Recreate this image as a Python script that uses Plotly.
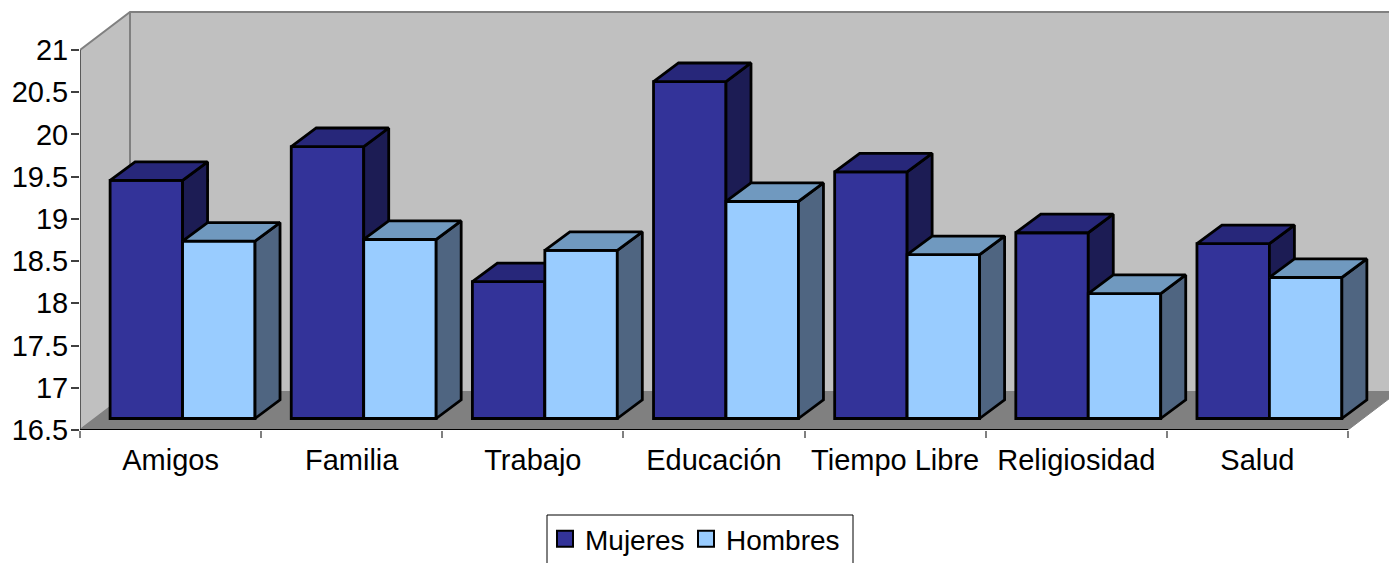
import plotly.graph_objects as go

categories = ["Amigos", "Familia", "Trabajo", "Educación", "Tiempo Libre", "Religiosidad", "Salud"]
mujeres = [19.32, 19.72, 18.12, 20.49, 19.42, 18.70, 18.57]
hombres = [18.60, 18.62, 18.49, 19.07, 18.44, 17.98, 18.17]
y_ticks = [16.5, 17, 17.5, 18, 18.5, 19, 19.5, 20, 20.5, 21]
y_labels = ["16.5", "17", "17.5", "18", "18.5", "19", "19.5", "20", "20.5", "21"]

W, H = 1389, 563
ML, MB = 80, 133
PX_X, PX_Y = 181.14, 84.44        # pixels per category / per value unit
XMAX = (W - ML) / PX_X
YMIN, YMAX = 16.5, 16.5 + (H - MB) / PX_Y
N = len(categories)
BAR_W = 0.4
# oblique projection, expressed in axis units
WALL_DX, WALL_DY = 50 / PX_X, 38 / PX_Y
PLANE_DX, PLANE_DY = 12 / PX_X, 11.5 / PX_Y
BAR_DX, BAR_DY = 25 / PX_X, 18.6 / PX_Y
FONT = "Liberation Sans, Arial, sans-serif"
OUT = 2.8

fig = go.Figure()

# walls and floor
wx, wy = WALL_DX, WALL_DY
fig.add_trace(go.Scatter(
    x=[0, 0, wx, N + wx, N + wx, wx, 0], y=[YMIN, 21, 21 + wy, 21 + wy, YMIN + wy, YMIN + wy, YMIN],
    mode="lines", fill="toself", fillcolor="#C0C0C0", line=dict(color="#808080", width=2),
    showlegend=False, hoverinfo="skip"))
fig.add_trace(go.Scatter(
    x=[wx, wx], y=[YMIN + wy, 21 + wy], mode="lines", line=dict(color="#808080", width=2),
    showlegend=False, hoverinfo="skip"))
fig.add_trace(go.Scatter(
    x=[0, wx, N + wx, N, 0], y=[YMIN, YMIN + wy, YMIN + wy, YMIN, YMIN],
    mode="lines", fill="toself", fillcolor="#808080", line=dict(color="#808080", width=1),
    showlegend=False, hoverinfo="skip"))
fig.add_trace(go.Scatter(
    x=[0, 0], y=[YMIN, 21], mode="lines", line=dict(color="#5A5A5A", width=2),
    showlegend=False, hoverinfo="skip", cliponaxis=False))
fig.add_trace(go.Scatter(
    x=[0, N], y=[YMIN, YMIN], mode="lines", line=dict(color="#000000", width=2),
    showlegend=False, hoverinfo="skip", cliponaxis=False))


def add_series(values, start, front, top, side, xa, ya):
    xs = [i + start for i in range(N)]
    fig.add_trace(go.Bar(
        x=[x + BAR_W / 2 for x in xs], y=[v - YMIN for v in values], base=YMIN, width=BAR_W,
        marker=dict(color=front, line=dict(color="#000000", width=OUT)),
        xaxis=xa, yaxis=ya, showlegend=False, hoverinfo="skip"))
    tx, ty, sx, sy = [], [], [], []
    for x, v in zip(xs, values):
        r = x + BAR_W
        tx += [x, x + BAR_DX, r + BAR_DX, r, x, None]
        ty += [v, v + BAR_DY, v + BAR_DY, v, v, None]
        sx += [r, r + BAR_DX, r + BAR_DX, r, r, None]
        sy += [v, v + BAR_DY, YMIN + BAR_DY, YMIN, v, None]
    for px, py, col in ((sx, sy, side), (tx, ty, top)):
        fig.add_trace(go.Scatter(
            x=px, y=py, mode="lines", fill="toself", fillcolor=col,
            line=dict(color="#000000", width=OUT), xaxis=xa, yaxis=ya,
            showlegend=False, hoverinfo="skip"))


add_series(mujeres, 0.1, "#333399", "#27277A", "#1C1C54", "x2", "y2")
add_series(hombres, 0.5, "#99CCFF", "#7099BF", "#4F6581", "x3", "y3")

for name, col, lg in (("Mujeres", "#333399", "legend"), ("Hombres", "#99CCFF", "legend2")):
    fig.add_trace(go.Scatter(
        x=[None], y=[None], mode="markers", name=name, legend=lg,
        marker=dict(symbol="square", size=16, color=col, line=dict(color="#000000", width=2))))

shifted_x = dict(range=[-PLANE_DX, XMAX - PLANE_DX], overlaying="x", visible=False, domain=[0, 1], anchor="y")
shifted_y = dict(range=[YMIN - PLANE_DY, YMAX - PLANE_DY], overlaying="y", visible=False, anchor="x")

PH = H - MB
PW = W - ML
legend_common = dict(orientation="h", y=(PH - 514) / PH, xanchor="left", yanchor="top",
                     bgcolor="rgba(0,0,0,0)", borderwidth=0, itemsizing="trace",
                     font=dict(size=28, family=FONT), itemclick=False, itemdoubleclick=False)
fig.update_layout(
    width=W, height=H, margin=dict(l=ML, r=0, t=0, b=MB, pad=0, autoexpand=False),
    paper_bgcolor="#FFFFFF", plot_bgcolor="#FFFFFF", barmode="overlay",
    font=dict(family=FONT, color="#000000", size=29),
    xaxis=dict(range=[0, XMAX], tickvals=[i + 0.5 for i in range(N)], ticktext=categories,
               ticks="outside", ticklen=4, tickcolor="rgba(0,0,0,0)", showgrid=False, zeroline=False,
               showline=False, tickfont=dict(size=29, family=FONT), automargin=False,
               minor=dict(tickvals=list(range(N + 1)), ticks="outside", ticklen=7, tickcolor="#808080",
                          tickwidth=2, showgrid=False)),
    yaxis=dict(range=[YMIN, YMAX], tickvals=y_ticks, ticktext=y_labels, ticks="outside", ticklen=8,
               tickcolor="#404040", tickwidth=1.5, showgrid=False, zeroline=False, showline=False,
               ticklabelstandoff=-3, automargin=False, tickfont=dict(size=29, family=FONT)),
    xaxis2=shifted_x, xaxis3=dict(shifted_x),
    yaxis2=shifted_y, yaxis3=dict(shifted_y),
    showlegend=True,
    legend=dict(x=(545 - ML) / PW, **legend_common),
    legend2=dict(x=(686 - ML) / PW, **legend_common),
    shapes=[dict(type="rect", xref="paper", yref="paper",
                 x0=(547 - ML) / PW, x1=(853 - ML) / PW, y0=(PH - 515) / PH, y1=(PH - 575) / PH,
                 line=dict(color="#000000", width=1), fillcolor="#FFFFFF", layer="below")],
)

fig.write_html("out.html", config=dict(displayModeBar=False),
               post_script="document.body.style.margin='0';document.body.style.overflow='hidden';")
